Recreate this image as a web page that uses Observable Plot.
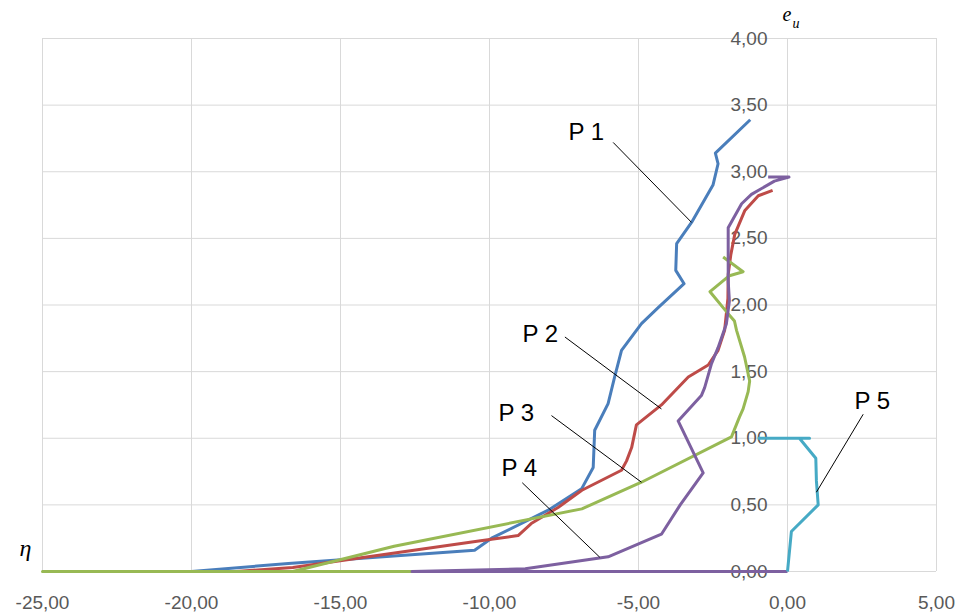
<!DOCTYPE html>
<html>
<head>
<meta charset="utf-8">
<script src="https://cdn.jsdelivr.net/npm/d3@7"></script>
<script src="https://cdn.jsdelivr.net/npm/@observablehq/plot@0.6"></script>
<style>
  html, body { margin: 0; padding: 0; background: #ffffff; }
  #chart svg { display: block; }
</style>
</head>
<body>
<div id="chart"></div>
<script>
// Curves P1..P5: strain e (x) against relative height η (y)
const p1E   = [-1.25, -2.42, -2.33, -2.50, -3.22, -3.72, -3.75, -3.47, -4.34, -4.90, -5.57, -5.80, -6.02, -6.47, -6.52, -6.91, -8.03, -9.93, -10.50, -16.75, -20.00];
const p1Eta = [ 3.39,  3.14,  3.06,  2.90,  2.62,  2.46,  2.26,  2.16,  1.98,  1.86,  1.66,  1.46,  1.26,  1.06,  0.78,  0.62,  0.46,  0.25,   0.16,   0.06,   0.00];

const p2E   = [-0.50, -0.98, -1.43, -1.77, -1.90, -1.99, -2.00, -2.11, -2.33, -2.66, -3.33, -4.23, -5.07, -5.23, -5.40, -5.57, -6.90, -7.70, -8.60, -9.04, -10.30, -16.60, -18.50, -25.00];
const p2Eta = [ 2.86,  2.82,  2.71,  2.53,  2.38,  2.23,  2.05,  1.81,  1.66,  1.55,  1.46,  1.25,  1.10,  0.93,  0.83,  0.76,  0.61,  0.48,  0.36,  0.27,   0.23,   0.03,   0.00,   0.00];

const p3E   = [-2.16, -1.49, -1.95, -2.60, -2.05, -1.78, -1.71, -1.44, -1.27, -1.32, -1.49, -1.61, -1.88, -4.90, -6.90, -13.20, -16.60, -25.00, -12.60];
const p3Eta = [ 2.36,  2.25,  2.22,  2.10,  1.95,  1.88,  1.81,  1.61,  1.43,  1.35,  1.22,  1.16,  1.01,  0.67,  0.47,   0.19,   0.00,   0.00,   0.00];

const p4E   = [0.00, -12.60, -8.80, -6.02, -4.23, -3.60, -2.83, -3.67, -2.89, -2.78, -2.55, -2.33, -2.05, -1.95, -1.99, -1.99, -1.54, -1.21, -0.44, 0.05, -0.65];
const p4Eta = [0.00,   0.00,  0.02,  0.11,  0.28,  0.50,  0.74,  1.13,  1.32,  1.38,  1.56,  1.68,  1.86,  2.03,  2.18,  2.58,  2.76,  2.83,  2.93, 2.96,  2.96];

const p5E   = [0.00, 0.13, 1.03, 0.97, 0.95, 0.40, 0.74, -1.00];
const p5Eta = [0.00, 0.30, 0.50, 0.68, 0.85, 1.00, 1.00,  1.00];

const seriesNames  = ["P 1", "P 2", "P 3", "P 4", "P 5"];
const seriesColors = ["#4a7ebb", "#be4b48", "#98b954", "#7d60a0", "#46aac5"];

// Axis ticks and their labels
const xTicks = [-25, -20, -15, -10, -5, 0, 5];
const xTickLabels = ["-25,00", "-20,00", "-15,00", "-10,00", "-5,00", "0,00", "5,00"];
const yTicks = [0, 0.5, 1, 1.5, 2, 2.5, 3, 3.5, 4];
const yTickLabels = ["0,00", "0,50", "1,00", "1,50", "2,00", "2,50", "3,00", "3,50", "4,00"];

// Series labels with their leader lines (label anchor, leader start, leader end)
const labelX  = [-7.35, -8.89, -9.70, -9.60, 2.25];
const labelY  = [3.235, 1.72, 1.126, 0.72, 1.22];
const leadX1  = [-5.85, -7.47, -7.92, -8.90, 2.54];
const leadY1  = [3.22, 1.76, 1.17, 0.666, 1.18];
const leadX2  = [-3.22, -4.23, -4.90, -6.30, 0.97];
const leadY2  = [2.62, 1.22, 0.67, 0.107, 0.595];

const curves = [[p1E, p1Eta], [p2E, p2Eta], [p3E, p3Eta], [p4E, p4Eta], [p5E, p5Eta]];
const rows = curves.flatMap(([es, etas], i) =>
  es.map((e, k) => ({series: seriesNames[i], e, eta: etas[k]})));

const labels = seriesNames.map((name, i) => ({
  name, x: labelX[i], y: labelY[i],
  x1: leadX1[i], y1: leadY1[i], x2: leadX2[i], y2: leadY2[i]
}));

const tickFont = "Liberation Sans, Arial, sans-serif";
const gray = "#595959";

const chart = Plot.plot({
  width: 957,
  height: 614,
  marginLeft: 42,
  marginRight: 21,
  marginTop: 38,
  marginBottom: 43,
  style: {background: "#ffffff", overflow: "visible"},
  x: {domain: [-25, 5], axis: null},
  y: {domain: [0, 4], axis: null},
  color: {domain: seriesNames, range: seriesColors},
  marks: [
    Plot.gridX(xTicks, {stroke: "#d9d9d9", strokeOpacity: 1, strokeWidth: 1}),
    Plot.gridY(yTicks, {stroke: "#d9d9d9", strokeOpacity: 1, strokeWidth: 1}),
    // value labels of the vertical axis sit just left of e = 0
    Plot.text(yTicks, {
      x: () => 0, y: d => d, text: (d, i) => yTickLabels[i],
      dx: -20, textAnchor: "end", fontSize: 19, fontFamily: tickFont, fill: gray
    }),
    Plot.text(xTicks, {
      x: d => d, y: () => 0, text: (d, i) => xTickLabels[i],
      dy: 31, fontSize: 19, fontFamily: tickFont, fill: gray
    }),
    // curves
    Plot.line(rows, {
      x: "e", y: "eta", z: "series", stroke: "series",
      strokeWidth: 3, strokeLinejoin: "round", strokeLinecap: "butt", curve: "linear"
    }),
    // leader lines and labels
    Plot.link(labels, {x1: "x1", y1: "y1", x2: "x2", y2: "y2", stroke: "#000000", strokeWidth: 1}),
    Plot.text(labels, {
      x: "x", y: "y", text: "name", textAnchor: "start", lineAnchor: "bottom",
      fontSize: 24, fontFamily: "Liberation Sans, Arial, sans-serif", fill: "#000000"
    }),
    // axis names
    Plot.text(["η"], {
      frameAnchor: "bottom-left", text: d => d, dx: -23, dy: -16,
      fontSize: 24, fontStyle: "italic", fontFamily: "Liberation Serif, serif", fill: "#000000"
    }),
    Plot.text(["e"], {
      x: () => 0, frameAnchor: "top", text: d => d, dx: -5, dy: -18, textAnchor: "start",
      lineAnchor: "bottom",
      fontSize: 20, fontStyle: "italic", fontFamily: "Liberation Serif, serif", fill: "#000000"
    }),
    Plot.text(["u"], {
      x: () => 0, frameAnchor: "top", text: d => d, dx: 5, dy: -11, textAnchor: "start",
      lineAnchor: "bottom",
      fontSize: 14, fontStyle: "italic", fontFamily: "Liberation Serif, serif", fill: "#000000"
    })
  ]
});

document.getElementById("chart").appendChild(chart);
</script>
</body>
</html>
